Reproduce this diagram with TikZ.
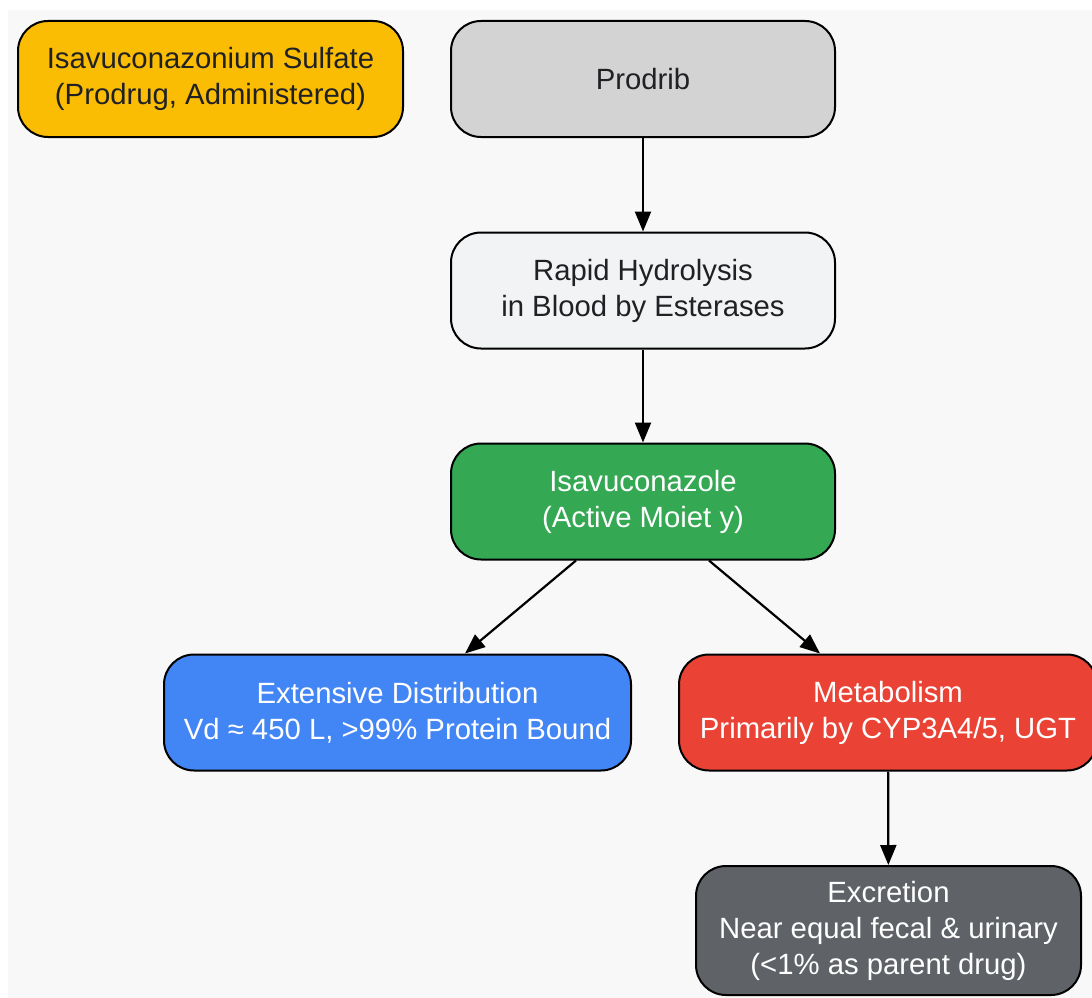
\documentclass[tikz,border=0pt]{standalone}
\usepackage{fontspec}
\setmainfont{Liberation Sans}
\usetikzlibrary{arrows.meta}

\definecolor{bgGray}{HTML}{F8F8F8}
\definecolor{txtDark}{HTML}{202124}
\definecolor{cYellow}{HTML}{FBBC04}
\definecolor{cGray}{HTML}{D3D3D3}
\definecolor{cLight}{HTML}{F1F3F4}
\definecolor{cGreen}{HTML}{34A853}
\definecolor{cBlue}{HTML}{4285F4}
\definecolor{cRed}{HTML}{EA4335}
\definecolor{cDark}{HTML}{5F6368}

\tikzset{
  pkbox/.style={draw=black, line width=2pt, rounded corners=30pt,
    minimum height=116pt, align=center, inner sep=0pt,
    font=\fontsize{29.3}{36}\selectfont},
  darktxt/.style={text=txtDark},
  whitetxt/.style={text=white},
  flow/.style={-{Triangle[length=20pt,width=16pt]}, line width=2.2pt}
}

\begin{document}
\begin{tikzpicture}[x=1pt,y=-1pt]
      \useasboundingbox (0,0) rectangle (1092,998);
      \fill[white] (0,0) rectangle (1092,998);
      \fill[bgGray] (8,10) rectangle (1092,998);

      % top row
      \node[pkbox, darktxt, fill=cYellow, minimum width=385pt] (sulfate) at (210.5,79)
        {Isavuconazonium Sulfate\\(Prodrug, Administered)};
      \node[pkbox, darktxt, fill=cGray, minimum width=384pt] (prodrib) at (643,79) {Prodrib};

      % main chain
      \node[pkbox, darktxt, fill=cLight, minimum width=384pt] (hydro) at (643,290.5)
        {Rapid Hydrolysis\\in Blood by Esterases};
      \node[pkbox, whitetxt, fill=cGreen, minimum width=384pt] (active) at (643,501.5)
        {Isavuconazole\\(Active Moiet y)};

      % branches
      \node[pkbox, whitetxt, fill=cBlue, minimum width=467pt] (distrib) at (397.5,712.5)
        {Extensive Distribution\\Vd ≈ 450 L, >99\% Protein Bound};
      \node[pkbox, whitetxt, fill=cRed, minimum width=418pt] (metab) at (888,712.5)
        {Metabolism\\Primarily by CYP3A4/5, UGT};
      \node[pkbox, whitetxt, fill=cDark, minimum width=385pt, minimum height=129pt] (excr) at (888.5,930.5)
        {Excretion\\Near equal fecal \& urinary\\(<1\% as parent drug)};

      \coordinate (activeL) at ([xshift=126pt]active.south west);
      \coordinate (activeR) at ([xshift=259pt]active.south west);
      \coordinate (distribT) at ([xshift=302pt]distrib.north west);
      \coordinate (metabT) at ([xshift=142pt]metab.north west);

      \draw[flow] (prodrib) -- (hydro);
      \draw[flow] (hydro) -- (active);
      \draw[flow] (activeL) -- (distribT);
      \draw[flow] (activeR) -- (metabT);
      \draw[flow] (metab) -- (excr);
\end{tikzpicture}
\end{document}
